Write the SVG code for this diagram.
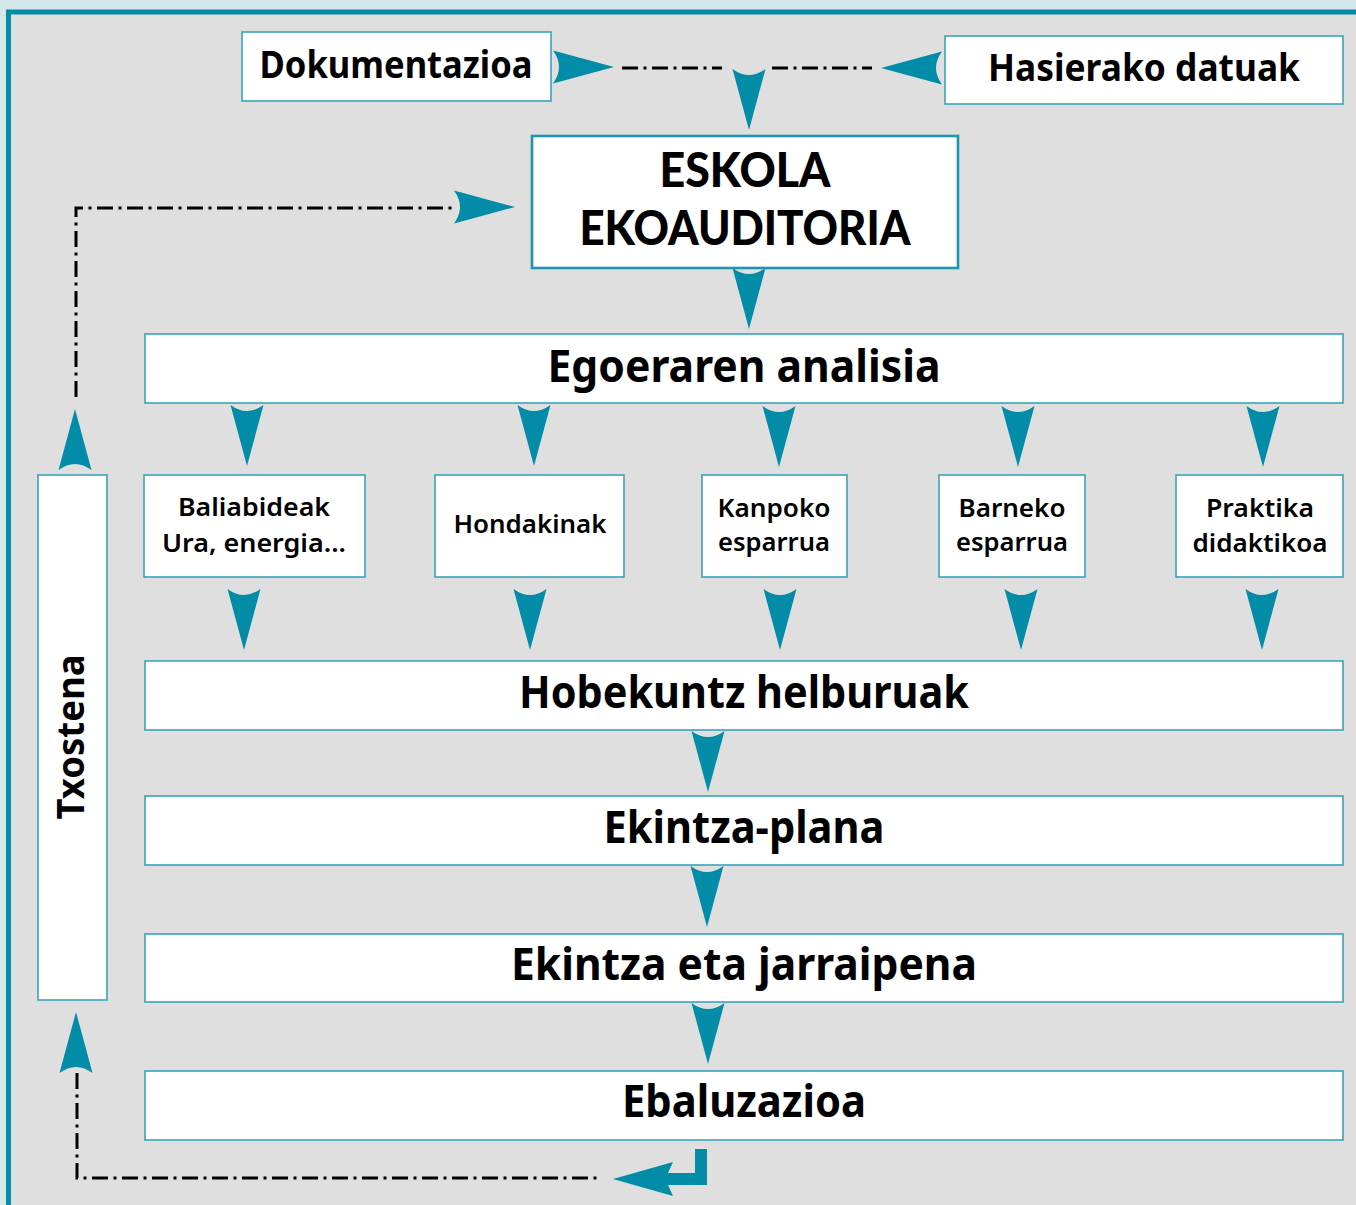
<svg xmlns="http://www.w3.org/2000/svg" xmlns:xlink="http://www.w3.org/1999/xlink" width="1356" height="1205" viewBox="0 0 1356 1205">
<style>
.box{fill:#ffffff;stroke:#3ba3b9;stroke-width:1.6}
.boxb{fill:#ffffff;stroke:#1c96ae;stroke-width:2.6}
.t{font-family:"Noto Sans","Liberation Sans",sans-serif;font-weight:700;fill:#000;text-anchor:middle}
.tl{font-family:Lato,"Noto Sans","Liberation Sans",sans-serif;font-weight:900;fill:#000;text-anchor:middle;font-size:48px}
.s{font-family:"Noto Sans","Liberation Sans",sans-serif;font-weight:600;fill:#000;text-anchor:middle;font-size:25px}
.dash{fill:none;stroke:#000;stroke-width:3;stroke-dasharray:16 5.5 3 5.5}
.arr{fill:#028ca7}
</style>
<defs>
<path id="ad" d="M-16.5,0 Q0,12 16.5,0 L0,61 Z"/>
</defs>
<rect x="0" y="0" width="1356" height="1205" fill="#d5e7eb"/>
<rect x="8.5" y="12" width="1360" height="1210" fill="#dfdfdf" stroke="#038da8" stroke-width="5"/>

<g id="connectors">
<path class="dash" d="M622,68 H722"/>
<path class="dash" d="M772,68 H872"/>
<path class="dash" d="M76,397 V208 H454"/>
<path class="dash" d="M77,1073 V1178 H600"/>
<g class="arr">
<use xlink:href="#ad" transform="translate(553,67) rotate(-90)"/>
<use xlink:href="#ad" transform="translate(942,68) rotate(90)"/>
<use xlink:href="#ad" x="749" y="69"/>
<use xlink:href="#ad" transform="translate(454,207) rotate(-90)"/>
<use xlink:href="#ad" x="749" y="268"/>
<use xlink:href="#ad" x="247" y="405"/>
<use xlink:href="#ad" x="534" y="405"/>
<use xlink:href="#ad" x="779" y="406"/>
<use xlink:href="#ad" x="1018" y="406"/>
<use xlink:href="#ad" x="1263" y="406"/>
<use xlink:href="#ad" x="244" y="589"/>
<use xlink:href="#ad" x="530" y="589"/>
<use xlink:href="#ad" x="780" y="589"/>
<use xlink:href="#ad" x="1021" y="589"/>
<use xlink:href="#ad" x="1262" y="589"/>
<use xlink:href="#ad" x="708" y="731"/>
<use xlink:href="#ad" x="707" y="866"/>
<use xlink:href="#ad" x="708" y="1003"/>
<use xlink:href="#ad" transform="translate(75,470) rotate(180)"/>
<use xlink:href="#ad" transform="translate(76,1073) rotate(180)"/>
<path d="M707,1149 H695 V1173 H668 L673,1162 L613,1179 L673,1196 L668,1185 H707 Z"/>
</g>
</g>

<g id="dokumentazioa">
<rect class="box" x="242" y="32" width="309" height="69"/>
<text class="t" x="396" y="78" font-size="37" textLength="273" lengthAdjust="spacingAndGlyphs">Dokumentazioa</text>
</g>
<g id="hasierako">
<rect class="box" x="945" y="36" width="398" height="68"/>
<text class="t" x="1144" y="81" font-size="37" textLength="312" lengthAdjust="spacingAndGlyphs">Hasierako datuak</text>
</g>
<g id="eskola">
<rect class="boxb" x="532" y="136" width="426" height="132"/>
<text class="tl" x="745" y="187" textLength="171" lengthAdjust="spacingAndGlyphs">ESKOLA</text>
<text class="tl" x="745" y="245" textLength="331" lengthAdjust="spacingAndGlyphs">EKOAUDITORIA</text>
</g>
<g id="egoeraren">
<rect class="box" x="145" y="334" width="1198" height="69"/>
<text class="t" x="744" y="382" font-size="44" textLength="393" lengthAdjust="spacingAndGlyphs">Egoeraren analisia</text>
</g>
<g id="baliabideak">
<rect class="box" x="144" y="475" width="221" height="102"/>
<text class="s" x="254" y="516" textLength="152" lengthAdjust="spacingAndGlyphs">Baliabideak</text>
<text class="s" x="254" y="552" textLength="184" lengthAdjust="spacingAndGlyphs">Ura, energia...</text>
</g>
<g id="hondakinak">
<rect class="box" x="435" y="475" width="189" height="102"/>
<text class="s" x="530" y="533" textLength="153" lengthAdjust="spacingAndGlyphs">Hondakinak</text>
</g>
<g id="kanpoko">
<rect class="box" x="702" y="475" width="145" height="102"/>
<text class="s" x="774" y="517" textLength="113" lengthAdjust="spacingAndGlyphs">Kanpoko</text>
<text class="s" x="774" y="551" textLength="112" lengthAdjust="spacingAndGlyphs">esparrua</text>
</g>
<g id="barneko">
<rect class="box" x="939" y="475" width="146" height="102"/>
<text class="s" x="1012" y="517" textLength="107" lengthAdjust="spacingAndGlyphs">Barneko</text>
<text class="s" x="1012" y="551" textLength="112" lengthAdjust="spacingAndGlyphs">esparrua</text>
</g>
<g id="praktika">
<rect class="box" x="1176" y="475" width="167" height="102"/>
<text class="s" x="1260" y="517" textLength="108" lengthAdjust="spacingAndGlyphs">Praktika</text>
<text class="s" x="1260" y="552" textLength="135" lengthAdjust="spacingAndGlyphs">didaktikoa</text>
</g>
<g id="hobekuntz">
<rect class="box" x="145" y="661" width="1198" height="69"/>
<text class="t" x="744" y="708" font-size="44" textLength="450" lengthAdjust="spacingAndGlyphs">Hobekuntz helburuak</text>
</g>
<g id="ekintza-plana">
<rect class="box" x="145" y="796" width="1198" height="69"/>
<text class="t" x="744" y="843" font-size="44" textLength="281" lengthAdjust="spacingAndGlyphs">Ekintza-plana</text>
</g>
<g id="ekintza-jarraipena">
<rect class="box" x="145" y="934" width="1198" height="68"/>
<text class="t" x="744" y="980" font-size="44" textLength="466" lengthAdjust="spacingAndGlyphs">Ekintza eta jarraipena</text>
</g>
<g id="ebaluzazioa">
<rect class="box" x="145" y="1071" width="1198" height="69"/>
<text class="t" x="744" y="1117" font-size="44" textLength="244" lengthAdjust="spacingAndGlyphs">Ebaluzazioa</text>
</g>
<g id="txostena">
<rect class="box" x="38" y="475" width="69" height="525"/>
<text class="t" transform="translate(84,737) rotate(-90)" x="0" y="0" font-size="37" textLength="165" lengthAdjust="spacingAndGlyphs">Txostena</text>
</g>
</svg>
